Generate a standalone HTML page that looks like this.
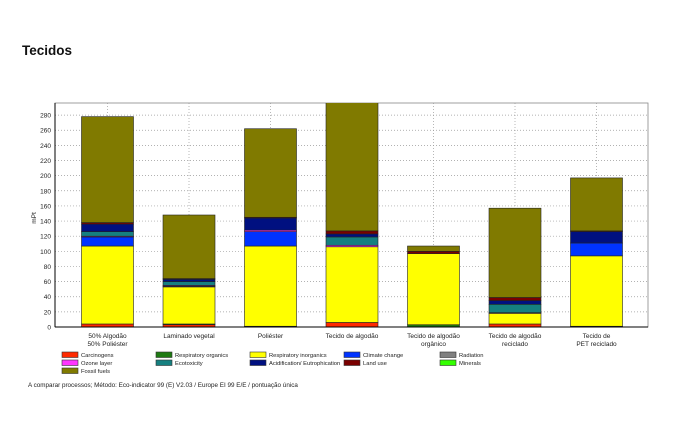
<!DOCTYPE html>
<html><head><meta charset="utf-8"><style>
body{margin:0;background:#fff;width:685px;height:439px;overflow:hidden;font-family:"Liberation Sans",sans-serif}
</style></head><body>
<svg width="685" height="439" viewBox="0 0 685 439">
<text x="22" y="55" font-size="13.5" font-weight="bold" fill="#111">Tecidos</text>
<g id="plot"></g>
<text x="28" y="387" font-size="6.3" fill="#222">A comparar processos;  Método: Eco-indicator 99 (E) V2.03 /  Europe EI 99 E/E / pontuação única</text>
</svg>
<script>
const categories=[["50% Algodão","50% Poliéster"],["Laminado vegetal"],["Poliéster"],["Tecido de algodão"],["Tecido de algodão","orgânico"],["Tecido de algodão","reciclado"],["Tecido de","PET reciclado"]];
const seriesNames=["Carcinogens","Respiratory organics","Respiratory inorganics","Climate change","Radiation","Ozone layer","Ecotoxicity","Acidification/ Eutrophication","Land use","Minerals","Fossil fuels"];
const seriesColors=["#ff2a00","#1e7a12","#ffff00","#0033ff","#808080","#ff33ff","#158080","#001080","#7a0000","#33ff00","#807a00"];
const carcinogens=[4,3,1,6,0,4,1];
const respOrganics=[0,1,0,0,3,0,0];
const respInorganics=[103,49,106,100,94,14,93];
const climateChange=[12,1,19,0,0,0,17];
const radiation=[0,0,0,0,0,0,0];
const ozoneLayer=[1,1,2,2,0,1,0];
const ecotoxicity=[6,5,0,11,0,11,0];
const acidification=[10,3,16,4,0,5,15];
const landUse=[2,1,1,4,3,4,1];
const minerals=[0,0,0,0,0,0,0];
const fossilFuels=[140,84,117,182,7,118,70];
const yTicks=[0,20,40,60,80,100,120,140,160,180,200,220,240,260,280];
const series=[carcinogens,respOrganics,respInorganics,climateChange,radiation,ozoneLayer,ecotoxicity,acidification,landUse,minerals,fossilFuels];

const NS="http://www.w3.org/2000/svg";
const g=document.getElementById('plot');
const L=55,R=648,T=103,B=327,YMAX=296;
const y=v=>B-(v/YMAX)*(B-T);
const xc=i=>107.5+81.5*i;
const BW=52;
function mk(t,a){const e=document.createElementNS(NS,t);for(const k in a)e.setAttribute(k,a[k]);return e;}
g.appendChild(mk('rect',{x:L,y:T,width:R-L,height:B-T,fill:'#fff',stroke:'#888','stroke-width':0.8}));
const clip=mk('clipPath',{id:'pc'});clip.appendChild(mk('rect',{x:L,y:T,width:R-L,height:B-T}));g.appendChild(clip);
yTicks.forEach(v=>{
 if(v>0){const l=mk('line',{x1:L,x2:R,y1:y(v),y2:y(v),stroke:'#999','stroke-dasharray':'1,2','stroke-width':0.7});
 
 g.appendChild(l);}
 const t=mk('text',{x:L-4,y:y(v)+2.5,'font-size':6.5,'text-anchor':'end',fill:'#222'});t.textContent=v;
 
 g.appendChild(t);
});
categories.forEach((c,i)=>{
 const l=mk('line',{x1:xc(i),x2:xc(i),y1:T,y2:B,stroke:'#999','stroke-dasharray':'1,2','stroke-width':0.7});
 
 g.appendChild(l);
});
const yl=mk('text',{x:36,y:218,'font-size':6.5,fill:'#222',transform:'rotate(-90 36 218)','text-anchor':'middle'});yl.textContent='mPt';

g.appendChild(yl);
const bars=mk('g',{'clip-path':'url(#pc)'});g.appendChild(bars);
categories.forEach((c,i)=>{
 let acc=0;
 series.forEach((s,k)=>{
  const v=s[i];if(!v)return;
  const r=mk('rect',{x:xc(i)-BW/2,y:y(acc+v),width:BW,height:y(acc)-y(acc+v),fill:seriesColors[k],stroke:'#222','stroke-width':0.6});
  
  
  bars.appendChild(r);acc+=v;
 });
 c.forEach((ln,j)=>{
  const t=mk('text',{x:xc(i),y:338+j*8,'font-size':6.5,'text-anchor':'middle',fill:'#222'});t.textContent=ln;
  
  g.appendChild(t);
 });
});
g.appendChild(mk('line',{x1:L,x2:R,y1:B,y2:B,stroke:'#000','stroke-width':1}));
g.appendChild(mk('line',{x1:L,x2:L,y1:T,y2:B,stroke:'#000','stroke-width':1}));
const colX=[62,156,250,344,440];
const pos=[[0,0],[1,0],[2,0],[3,0],[4,0],[0,1],[1,1],[2,1],[3,1],[4,1],[0,2]];
seriesNames.forEach((nm,k)=>{
 const [cx,ry]=pos[k];const lx=colX[cx],ly=352+ry*8;
 const sw=mk('rect',{x:lx,y:ly,width:16,height:5.5,fill:seriesColors[k],stroke:'#333','stroke-width':0.6});
 
 g.appendChild(sw);
 const t=mk('text',{x:lx+19,y:ly+5,'font-size':5.8,fill:'#222'});t.textContent=nm;
 
 g.appendChild(t);
});
</script>
</body></html>
